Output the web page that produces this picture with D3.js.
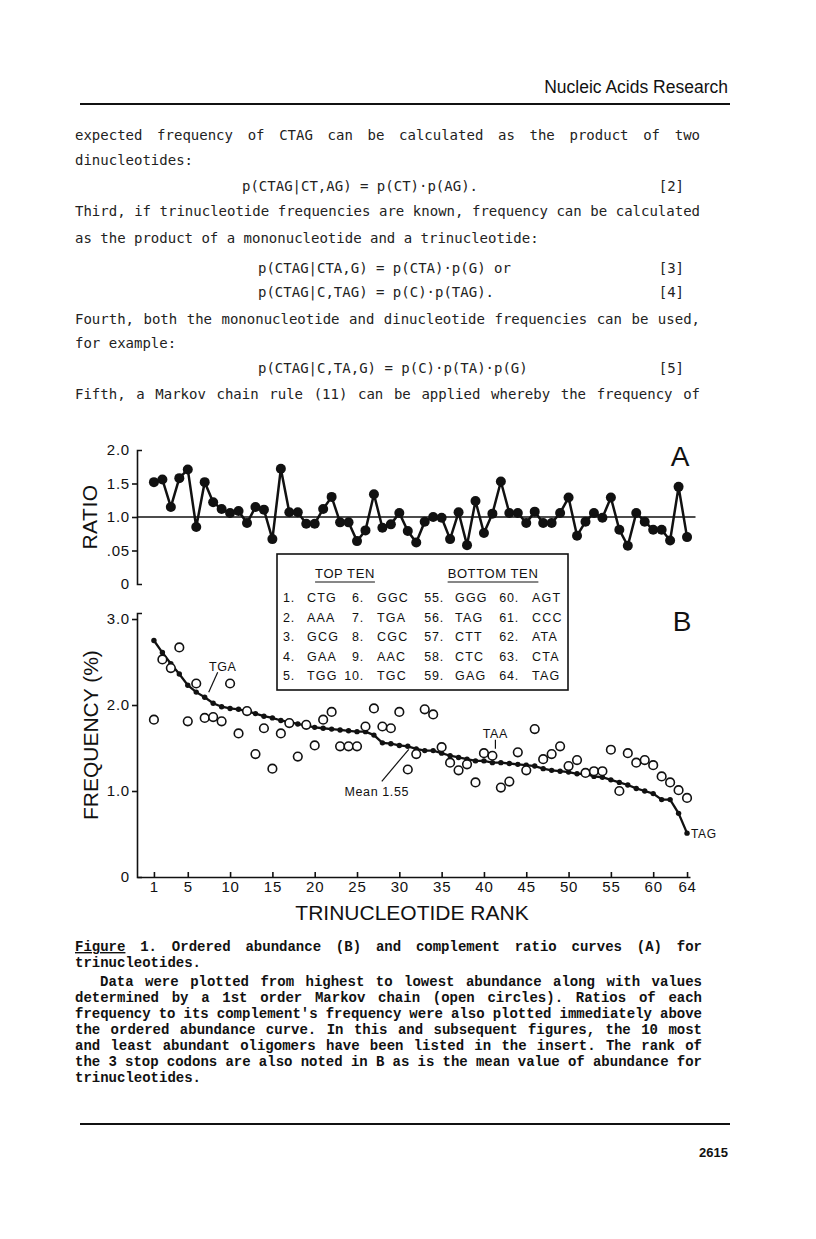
<!DOCTYPE html>
<html>
<head>
<meta charset="utf-8">
<script src="https://cdn.jsdelivr.net/npm/d3@7"></script>
<style>
body { margin: 0; background: #fff; }
.body { font-family: "DejaVu Sans Mono", monospace; font-size: 14px; fill: #222; }
.cap { font-family: "Liberation Mono", monospace; font-size: 14px; font-weight: bold; fill: #111; }
.sans { font-family: "Liberation Sans", Arial, sans-serif; fill: #111; }
</style>
</head>
<body>
<script>
// panel A: complement ratio, rank 1..64
var ratio = [1.52, 1.56, 1.15, 1.58, 1.71, 0.85, 1.52, 1.22, 1.12, 1.06,
	1.09, 0.91, 1.15, 1.11, 0.67, 1.72, 1.07, 1.07, 0.90, 0.90,
	1.12, 1.30, 0.92, 0.92, 0.64, 0.80, 1.34, 0.84, 0.89, 1.06,
	0.79, 0.62, 0.93, 1.00, 0.99, 0.67, 1.07, 0.58, 1.24, 0.76,
	1.05, 1.53, 1.06, 1.06, 0.91, 1.08, 0.91, 0.91, 1.06, 1.29,
	0.72, 0.93, 1.06, 0.99, 1.29, 0.81, 0.57, 1.06, 0.93, 0.81,
	0.81, 0.65, 1.45, 0.70];
// panel B: observed frequency (%), ordered
var freq = [2.75, 2.61, 2.48, 2.36, 2.23, 2.15, 2.09, 2.02, 1.98, 1.96,
	1.95, 1.93, 1.90, 1.87, 1.85, 1.82, 1.80, 1.78, 1.76, 1.74,
	1.73, 1.72, 1.71, 1.70, 1.69, 1.69, 1.65, 1.56, 1.55, 1.53,
	1.52, 1.49, 1.47, 1.47, 1.44, 1.41, 1.39, 1.37, 1.35, 1.35,
	1.33, 1.33, 1.32, 1.31, 1.30, 1.29, 1.26, 1.24, 1.23, 1.22,
	1.20, 1.20, 1.17, 1.16, 1.13, 1.10, 1.07, 1.03, 1.00, 0.97,
	0.90, 0.90, 0.74, 0.51];
// panel B: 1st order Markov chain values (open circles)
var markov = [1.83, 2.53, 2.43, 2.67, 1.81, 2.25, 1.85, 1.86, 1.81, 2.25,
	1.67, 1.93, 1.43, 1.73, 1.26, 1.67, 1.79, 1.40, 1.77, 1.53,
	1.83, 1.92, 1.52, 1.52, 1.52, 1.75, 1.96, 1.75, 1.73, 1.92,
	1.25, 1.43, 1.95, 1.89, 1.51, 1.33, 1.24, 1.31, 1.10, 1.44,
	1.41, 1.04, 1.11, 1.45, 1.24, 1.72, 1.37, 1.43, 1.52, 1.29,
	1.36, 1.21, 1.23, 1.23, 1.48, 1.00, 1.44, 1.33, 1.36, 1.30,
	1.17, 1.10, 1.01, 0.92];

var rankTicks = [1, 5, 10, 15, 20, 25, 30, 35, 40, 45, 50, 55, 60, 64];
var ratioTicks = [0, 0.5, 1, 1.5, 2];
var ratioLabels = ["0", ".05", "1.0", "1.5", "2.0"];
var freqTicks = [0, 1, 2, 3];
var freqLabels = ["0", "1.0", "2.0", "3.0"];

var topTen = [["1.", "CTG"], ["2.", "AAA"], ["3.", "GCG"], ["4.", "GAA"], ["5.", "TGG"],
	["6.", "GGC"], ["7.", "TGA"], ["8.", "CGC"], ["9.", "AAC"], ["10.", "TGC"]];
var bottomTen = [["55.", "GGG"], ["56.", "TAG"], ["57.", "CTT"], ["58.", "CTC"], ["59.", "GAG"],
	["60.", "AGT"], ["61.", "CCC"], ["62.", "ATA"], ["63.", "CTA"], ["64.", "TAG"]];

var bodyLines = [
	{t: "expected frequency of CTAG can be calculated as the product of two", y: 140, j: true},
	{t: "dinucleotides:", y: 165},
	{t: "Third, if trinucleotide frequencies are known, frequency can be calculated", y: 216, j: true},
	{t: "as the product of a mononucleotide and a trinucleotide:", y: 243},
	{t: "Fourth, both the mononucleotide and dinucleotide frequencies can be used,", y: 324, j: true},
	{t: "for example:", y: 348},
	{t: "Fifth, a Markov chain rule (11) can be applied whereby the frequency of", y: 399, j: true}
];
var equations = [
	{t: "p(CTAG|CT,AG) = p(CT)\u00b7p(AG).", n: "[2]", x: 242, y: 191},
	{t: "p(CTAG|CTA,G) = p(CTA)\u00b7p(G) or", n: "[3]", x: 258, y: 273},
	{t: "p(CTAG|C,TAG) = p(C)\u00b7p(TAG).", n: "[4]", x: 258, y: 297},
	{t: "p(CTAG|C,TA,G) = p(C)\u00b7p(TA)\u00b7p(G)", n: "[5]", x: 258, y: 373}
];
var captionLines = [
	{t: "Figure 1. Ordered abundance (B) and complement ratio curves (A) for", y: 951, j: true, x: 75},
	{t: "trinucleotides.", y: 967, x: 75},
	{t: "Data were plotted from highest to lowest abundance along with values", y: 986, j: true, x: 100},
	{t: "determined by a 1st order Markov chain (open circles). Ratios of each", y: 1002, j: true, x: 75},
	{t: "frequency to its complement's frequency were also plotted immediately above", y: 1018, j: true, x: 75},
	{t: "the ordered abundance curve. In this and subsequent figures, the 10 most", y: 1034, j: true, x: 75},
	{t: "and least abundant oligomers have been listed in the insert. The rank of", y: 1050, j: true, x: 75},
	{t: "the 3 stop codons are also noted in B as is the mean value of abundance for", y: 1066, j: true, x: 75},
	{t: "trinucleotides.", y: 1082, x: 75}
];

var svg = d3.select("body").append("svg")
	.attr("width", 816)
	.attr("height", 1239);

// spread the words of a line between x0 and x1
function justify(str, x0, x1, y, cls) {
	var words = str.split(" ");
	var t = svg.selectAll(null)
		.data(words)
		.enter()
		.append("text")
		.attr("class", cls)
		.attr("y", y)
		.text(function (d) { return d; });
	var widths = [];
	t.each(function () { widths.push(this.getComputedTextLength()); });
	var gap = (x1 - x0 - d3.sum(widths)) / (words.length - 1);
	var cx = x0;
	t.attr("x", function (d, i) {
		var v = cx;
		cx += widths[i] + gap;
		return v;
	});
	return t;
}

// page header
svg.append("text")
	.attr("class", "sans")
	.attr("x", 728)
	.attr("y", 93)
	.attr("text-anchor", "end")
	.attr("font-size", 17.5)
	.text("Nucleic Acids Research");
svg.append("line")
	.attr("x1", 80).attr("x2", 730)
	.attr("y1", 104).attr("y2", 104)
	.attr("stroke", "#111")
	.attr("stroke-width", 2);

bodyLines.forEach(function (l) {
	if (l.j) {
		justify(l.t, 75, 700, l.y, "body");
	} else {
		svg.append("text").attr("class", "body").attr("x", 75).attr("y", l.y).text(l.t);
	}
});
equations.forEach(function (e) {
	svg.append("text").attr("class", "body").attr("x", e.x).attr("y", e.y).text(e.t);
	svg.append("text").attr("class", "body").attr("x", 684).attr("y", e.y)
		.attr("text-anchor", "end").text(e.n);
});

// scales
var x = d3.scaleLinear().domain([-1, 64.35]).range([137, 690]);
var yA = d3.scaleLinear().domain([0, 2]).range([584, 450]);
var yB = d3.scaleLinear().domain([0, 3.07]).range([877, 613]);

function styleAxis(g, size) {
	g.attr("font-family", null).attr("font-size", null);
	g.selectAll("path, line").attr("stroke", "#111").attr("stroke-width", 1.6);
	g.selectAll("text")
		.attr("class", "sans")
		.attr("font-size", size)
		.attr("letter-spacing", 0.8)
		.attr("fill", "#111");
}

// ---- panel A ----
var axA = svg.append("g")
	.attr("transform", "translate(" + x(-1) + ",0)")
	.call(d3.axisLeft(yA)
		.tickValues(ratioTicks)
		.tickFormat(function (d, i) { return ratioLabels[i]; })
		.tickSize(5)
		.tickSizeOuter(-5)
		.tickPadding(2));
axA.selectAll(".tick")
	.filter(function (d) { return d === 0 || d === 2; })
	.select("line").remove();
styleAxis(axA, 15);

svg.append("line")
	.attr("x1", x(-1)).attr("x2", x(65))
	.attr("y1", yA(1)).attr("y2", yA(1))
	.attr("stroke", "#111")
	.attr("stroke-width", 1.6);

var lineA = d3.line()
	.x(function (d, i) { return x(i + 1); })
	.y(function (d) { return yA(d); });
svg.append("path")
	.datum(ratio)
	.attr("d", lineA)
	.attr("fill", "none")
	.attr("stroke", "#111")
	.attr("stroke-width", 2.5);
svg.selectAll("circle.ratio")
	.data(ratio)
	.enter()
	.append("circle")
	.attr("class", "ratio")
	.attr("cx", function (d, i) { return x(i + 1); })
	.attr("cy", function (d) { return yA(d); })
	.attr("r", 5)
	.attr("fill", "#111");

svg.append("text")
	.attr("class", "sans")
	.attr("transform", "translate(97," + yA(1) + ") rotate(-90)")
	.attr("text-anchor", "middle")
	.attr("font-size", 21)
	.attr("letter-spacing", 0.5)
	.text("RATIO");
svg.append("text")
	.attr("class", "sans")
	.attr("x", 680).attr("y", 466)
	.attr("text-anchor", "middle")
	.attr("font-size", 28)
	.text("A");

// ---- panel B ----
var axBx = svg.append("g")
	.attr("transform", "translate(0," + yB(0) + ")")
	.call(d3.axisBottom(x)
		.tickValues(rankTicks)
		.tickSize(-5)
		.tickSizeOuter(0)
		.tickPadding(4));
styleAxis(axBx, 15);

var axBy = svg.append("g")
	.attr("transform", "translate(" + x(-1) + ",0)")
	.call(d3.axisLeft(yB)
		.tickValues(freqTicks)
		.tickFormat(function (d, i) { return freqLabels[i]; })
		.tickSize(5)
		.tickSizeOuter(-5)
		.tickPadding(2));
axBy.selectAll(".tick")
	.filter(function (d) { return d === 0; })
	.select("line").remove();
styleAxis(axBy, 15);

var lineB = d3.line()
	.x(function (d, i) { return x(i + 1); })
	.y(function (d) { return yB(d); });
svg.append("path")
	.datum(freq)
	.attr("d", lineB)
	.attr("fill", "none")
	.attr("stroke", "#111")
	.attr("stroke-width", 2.3);
svg.selectAll("circle.freq")
	.data(freq)
	.enter()
	.append("circle")
	.attr("class", "freq")
	.attr("cx", function (d, i) { return x(i + 1); })
	.attr("cy", function (d) { return yB(d); })
	.attr("r", 2.7)
	.attr("fill", "#111");
svg.selectAll("circle.markov")
	.data(markov)
	.enter()
	.append("circle")
	.attr("class", "markov")
	.attr("cx", function (d, i) { return x(i + 1); })
	.attr("cy", function (d) { return yB(d); })
	.attr("r", 4.3)
	.attr("fill", "#fff")
	.attr("stroke", "#111")
	.attr("stroke-width", 1.6);

// annotations
var ann = svg.append("g").attr("class", "ann");
var tx = x(7), ty = yB(freq[6]);
ann.append("line").attr("x1", tx + 13).attr("y1", ty - 25).attr("x2", tx + 4).attr("y2", ty - 5);
ann.append("text").attr("x", tx + 18).attr("y", ty - 26).text("TGA");
var mx = x(31), my = yB(freq[30]);
ann.append("line").attr("x1", mx - 26).attr("y1", my + 35).attr("x2", mx + 1).attr("y2", my + 3);
ann.append("text").attr("x", mx - 31).attr("y", my + 50).text("Mean 1.55");
var ax = x(41), ay = yB(markov[40]);
ann.append("line").attr("x1", ax + 3).attr("y1", ay - 16).attr("x2", ax + 3).attr("y2", ay - 7);
ann.append("text").attr("x", ax + 3).attr("y", ay - 18).text("TAA");
ann.selectAll("line").attr("stroke", "#111").attr("stroke-width", 1.2);
ann.selectAll("text")
	.attr("class", "sans")
	.attr("text-anchor", "middle")
	.attr("font-size", 12.5)
	.attr("letter-spacing", 0.6);
svg.append("text")
	.attr("class", "sans")
	.attr("x", x(64) + 4).attr("y", yB(freq[63]) + 5)
	.attr("font-size", 12)
	.attr("letter-spacing", 0.6)
	.text("TAG");

svg.append("text")
	.attr("class", "sans")
	.attr("transform", "translate(98," + yB(1.65) + ") rotate(-90)")
	.attr("text-anchor", "middle")
	.attr("font-size", 21)
	.text("FREQUENCY (%)");
svg.append("text")
	.attr("class", "sans")
	.attr("x", 412).attr("y", 920)
	.attr("text-anchor", "middle")
	.attr("font-size", 21)
	.text("TRINUCLEOTIDE RANK");
svg.append("text")
	.attr("class", "sans")
	.attr("x", 682).attr("y", 631)
	.attr("text-anchor", "middle")
	.attr("font-size", 28)
	.text("B");

// insert with top / bottom ten
var box = svg.append("g");
box.append("rect")
	.attr("x", 277).attr("y", 554)
	.attr("width", 291).attr("height", 136)
	.attr("fill", "#fff")
	.attr("stroke", "#111")
	.attr("stroke-width", 1.6);
[{t: "TOP TEN", x: 345}, {t: "BOTTOM TEN", x: 493}].forEach(function (h) {
	var t = box.append("text")
		.attr("class", "sans")
		.attr("x", h.x).attr("y", 578)
		.attr("text-anchor", "middle")
		.attr("font-size", 13)
		.attr("letter-spacing", 0.6)
		.text(h.t);
	var w = t.node().getComputedTextLength();
	box.append("line")
		.attr("x1", h.x - w / 2).attr("x2", h.x + w / 2)
		.attr("y1", 582).attr("y2", 582)
		.attr("stroke", "#111").attr("stroke-width", 1.2);
});
var cols = [
	{rows: topTen.slice(0, 5), nx: 295, cx: 307},
	{rows: topTen.slice(5), nx: 364, cx: 377},
	{rows: bottomTen.slice(0, 5), nx: 444, cx: 455},
	{rows: bottomTen.slice(5), nx: 519, cx: 532}
];
var rowY = [602, 621.5, 641, 660.5, 680];
cols.forEach(function (c) {
	c.rows.forEach(function (r, i) {
		box.append("text").attr("class", "sans")
			.attr("x", c.nx).attr("y", rowY[i])
			.attr("text-anchor", "end")
			.attr("font-size", 12.5).attr("letter-spacing", 0.8)
			.text(r[0]);
		box.append("text").attr("class", "sans")
			.attr("x", c.cx).attr("y", rowY[i])
			.attr("font-size", 12.5).attr("letter-spacing", 1.2)
			.text(r[1]);
	});
});

// caption
captionLines.forEach(function (l, k) {
	var t;
	if (l.j) {
		t = justify(l.t, l.x, 702, l.y, "cap");
	} else {
		t = svg.append("text").attr("class", "cap").attr("x", l.x).attr("y", l.y).text(l.t);
	}
	if (k === 0) {
		t.filter(function (d, i) { return i === 0; })
			.attr("text-decoration", "underline");
	}
});

svg.append("line")
	.attr("x1", 80).attr("x2", 730)
	.attr("y1", 1124).attr("y2", 1124)
	.attr("stroke", "#111")
	.attr("stroke-width", 2);
svg.append("text")
	.attr("class", "sans")
	.attr("x", 728).attr("y", 1157)
	.attr("text-anchor", "end")
	.attr("font-size", 13)
	.attr("font-weight", "bold")
	.text("2615");
</script>
</body>
</html>
